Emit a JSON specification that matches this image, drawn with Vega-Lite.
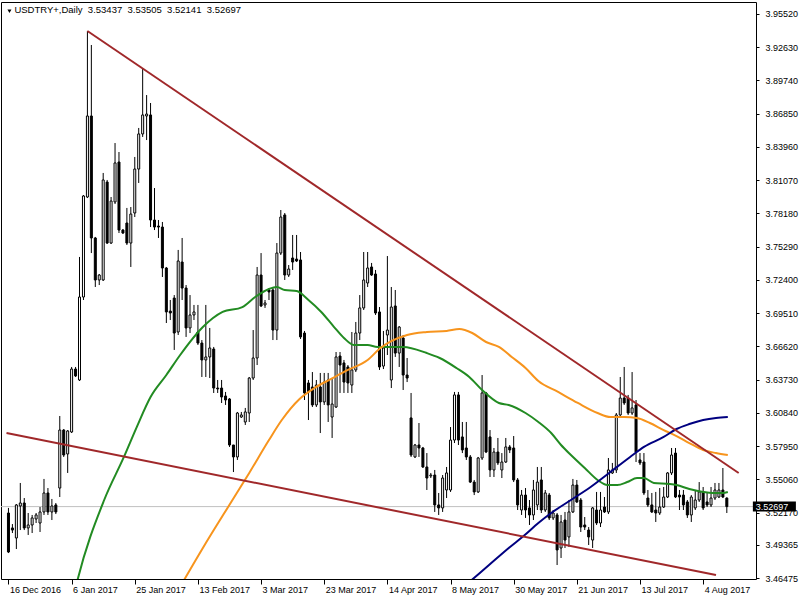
{
"$schema": "https://vega.github.io/schema/vega-lite/v6.json",
"width": 755, "height": 577,
"autosize": "none",
"padding": {"left": 1, "top": 2, "right": 44, "bottom": 21},
"background": "white",
"view": {"stroke": "black", "strokeWidth": 1},
"config": {"font": "Liberation Sans", "axis": {"labelOverlap": false}},
"datasets": {
"candles": [
{"i":0,"o":3.5214,"h":3.5258,"l":3.4866,"c":3.4875},
{"i":1,"o":3.5084,"h":3.5118,"l":3.5040,"c":3.5066},
{"i":2,"o":3.4997,"h":3.5292,"l":3.4901,"c":3.5284},
{"i":3,"o":3.5275,"h":3.5475,"l":3.5066,"c":3.5301},
{"i":4,"o":3.5301,"h":3.5344,"l":3.5066,"c":3.5084},
{"i":5,"o":3.5084,"h":3.5214,"l":3.5023,"c":3.5110},
{"i":6,"o":3.5110,"h":3.5197,"l":3.5040,"c":3.5171},
{"i":7,"o":3.5162,"h":3.5214,"l":3.5127,"c":3.5197},
{"i":8,"o":3.5127,"h":3.5266,"l":3.5049,"c":3.5223},
{"i":9,"o":3.5223,"h":3.5510,"l":3.5197,"c":3.5388},
{"i":10,"o":3.5388,"h":3.5431,"l":3.5197,"c":3.5223},
{"i":11,"o":3.5223,"h":3.5336,"l":3.5153,"c":3.5275},
{"i":12,"o":3.5284,"h":3.5301,"l":3.5205,"c":3.5223},
{"i":13,"o":3.5431,"h":3.6057,"l":3.5353,"c":3.5935},
{"i":14,"o":3.5935,"h":3.5944,"l":3.5701,"c":3.5718},
{"i":15,"o":3.5727,"h":3.5935,"l":3.5562,"c":3.5927},
{"i":16,"o":3.5918,"h":3.6483,"l":3.5909,"c":3.6465},
{"i":17,"o":3.6465,"h":3.6483,"l":3.6396,"c":3.6405},
{"i":18,"o":3.6370,"h":3.7439,"l":3.6361,"c":3.7091},
{"i":19,"o":3.7091,"h":3.7977,"l":3.7065,"c":3.7969},
{"i":20,"o":3.7960,"h":3.9403,"l":3.7951,"c":3.8664},
{"i":21,"o":3.8664,"h":3.9281,"l":3.7473,"c":3.7604},
{"i":22,"o":3.7604,"h":3.7613,"l":3.7178,"c":3.7239},
{"i":23,"o":3.7239,"h":3.7291,"l":3.7195,"c":3.7282},
{"i":24,"o":3.7239,"h":3.8169,"l":3.7230,"c":3.8108},
{"i":25,"o":3.8090,"h":3.8108,"l":3.7552,"c":3.7560},
{"i":26,"o":3.7560,"h":3.7960,"l":3.7552,"c":3.7925},
{"i":27,"o":3.7917,"h":3.8429,"l":3.7899,"c":3.8256},
{"i":28,"o":3.8264,"h":3.8351,"l":3.7647,"c":3.7673},
{"i":29,"o":3.7673,"h":3.7682,"l":3.7639,"c":3.7647},
{"i":30,"o":3.7734,"h":3.7865,"l":3.7543,"c":3.7560},
{"i":31,"o":3.7560,"h":3.7873,"l":3.7352,"c":3.7812},
{"i":32,"o":3.7821,"h":3.8308,"l":3.7786,"c":3.8203},
{"i":33,"o":3.8203,"h":3.8560,"l":3.8082,"c":3.8508},
{"i":34,"o":3.8508,"h":3.9081,"l":3.8482,"c":3.8673},
{"i":35,"o":3.8664,"h":3.8846,"l":3.8455,"c":3.8681},
{"i":36,"o":3.8673,"h":3.8777,"l":3.7699,"c":3.7760},
{"i":37,"o":3.7760,"h":3.8038,"l":3.7673,"c":3.7699},
{"i":38,"o":3.7708,"h":3.7760,"l":3.7604,"c":3.7699},
{"i":39,"o":3.7699,"h":3.7743,"l":3.7265,"c":3.7343},
{"i":40,"o":3.7343,"h":3.7352,"l":3.6865,"c":3.6961},
{"i":41,"o":3.6969,"h":3.7065,"l":3.6891,"c":3.6952},
{"i":42,"o":3.7082,"h":3.7108,"l":3.6631,"c":3.6778},
{"i":43,"o":3.6787,"h":3.7500,"l":3.6761,"c":3.7404},
{"i":44,"o":3.7395,"h":3.7604,"l":3.7065,"c":3.7169},
{"i":45,"o":3.7169,"h":3.7195,"l":3.6744,"c":3.6822},
{"i":46,"o":3.6822,"h":3.7108,"l":3.6778,"c":3.6935},
{"i":47,"o":3.6935,"h":3.7022,"l":3.6891,"c":3.6961},
{"i":48,"o":3.6787,"h":3.7022,"l":3.6674,"c":3.6691},
{"i":49,"o":3.6691,"h":3.6717,"l":3.6396,"c":3.6544},
{"i":50,"o":3.6544,"h":3.7022,"l":3.6396,"c":3.6570},
{"i":51,"o":3.6570,"h":3.6822,"l":3.6387,"c":3.6648},
{"i":52,"o":3.6639,"h":3.6657,"l":3.6257,"c":3.6300},
{"i":53,"o":3.6300,"h":3.6370,"l":3.6257,"c":3.6292},
{"i":54,"o":3.6300,"h":3.6370,"l":3.6170,"c":3.6222},
{"i":55,"o":3.6231,"h":3.6266,"l":3.6153,"c":3.6196},
{"i":56,"o":3.6205,"h":3.6213,"l":3.5788,"c":3.5805},
{"i":57,"o":3.5805,"h":3.5805,"l":3.5570,"c":3.5701},
{"i":58,"o":3.5701,"h":3.6092,"l":3.5675,"c":3.6083},
{"i":59,"o":3.6048,"h":3.6092,"l":3.6040,"c":3.6066},
{"i":60,"o":3.6005,"h":3.6127,"l":3.5979,"c":3.6092},
{"i":61,"o":3.6083,"h":3.6396,"l":3.6005,"c":3.6387},
{"i":62,"o":3.6387,"h":3.6804,"l":3.6370,"c":3.6561},
{"i":63,"o":3.6561,"h":3.7352,"l":3.6500,"c":3.7282},
{"i":64,"o":3.7282,"h":3.7473,"l":3.7004,"c":3.7013},
{"i":65,"o":3.7022,"h":3.7065,"l":3.6996,"c":3.7039},
{"i":66,"o":3.7152,"h":3.7169,"l":3.7065,"c":3.7135},
{"i":67,"o":3.7152,"h":3.7169,"l":3.6717,"c":3.6804},
{"i":68,"o":3.6804,"h":3.7560,"l":3.6717,"c":3.7473},
{"i":69,"o":3.7473,"h":3.7847,"l":3.7456,"c":3.7786},
{"i":70,"o":3.7804,"h":3.7821,"l":3.7239,"c":3.7282},
{"i":71,"o":3.7282,"h":3.7369,"l":3.7265,"c":3.7334},
{"i":72,"o":3.7430,"h":3.7630,"l":3.7326,"c":3.7395},
{"i":73,"o":3.7421,"h":3.7630,"l":3.7395,"c":3.7404},
{"i":74,"o":3.7413,"h":3.7482,"l":3.6726,"c":3.6744},
{"i":75,"o":3.6778,"h":3.6796,"l":3.6196,"c":3.6257},
{"i":76,"o":3.6344,"h":3.6370,"l":3.6022,"c":3.6266},
{"i":77,"o":3.6309,"h":3.6439,"l":3.6135,"c":3.6153},
{"i":78,"o":3.6153,"h":3.6370,"l":3.6135,"c":3.6326},
{"i":79,"o":3.6309,"h":3.6431,"l":3.5909,"c":3.6179},
{"i":80,"o":3.6179,"h":3.6431,"l":3.6153,"c":3.6352},
{"i":81,"o":3.6370,"h":3.6431,"l":3.6005,"c":3.6153},
{"i":82,"o":3.6048,"h":3.6387,"l":3.5866,"c":3.6161},
{"i":83,"o":3.6135,"h":3.6613,"l":3.6127,"c":3.6570},
{"i":84,"o":3.6578,"h":3.6613,"l":3.6257,"c":3.6500},
{"i":85,"o":3.6518,"h":3.6544,"l":3.6257,"c":3.6352},
{"i":86,"o":3.6483,"h":3.6500,"l":3.6257,"c":3.6344},
{"i":87,"o":3.6326,"h":3.6787,"l":3.6257,"c":3.6457},
{"i":88,"o":3.6457,"h":3.6874,"l":3.6439,"c":3.6778},
{"i":89,"o":3.6778,"h":3.7108,"l":3.6717,"c":3.6996},
{"i":90,"o":3.6996,"h":3.7482,"l":3.6978,"c":3.7239},
{"i":91,"o":3.7213,"h":3.7482,"l":3.7178,"c":3.7343},
{"i":92,"o":3.7352,"h":3.7387,"l":3.7274,"c":3.7282},
{"i":93,"o":3.7291,"h":3.7326,"l":3.6935,"c":3.6952},
{"i":94,"o":3.6961,"h":3.7004,"l":3.6457,"c":3.6483},
{"i":95,"o":3.6491,"h":3.6796,"l":3.6465,"c":3.6648},
{"i":96,"o":3.6761,"h":3.7447,"l":3.6587,"c":3.6804},
{"i":97,"o":3.6370,"h":3.7178,"l":3.6300,"c":3.7004},
{"i":98,"o":3.7013,"h":3.7152,"l":3.6570,"c":3.6604},
{"i":99,"o":3.6604,"h":3.6839,"l":3.6483,"c":3.6830},
{"i":100,"o":3.6735,"h":3.6761,"l":3.6283,"c":3.6413},
{"i":101,"o":3.6413,"h":3.6561,"l":3.6352,"c":3.6387},
{"i":102,"o":3.6040,"h":3.6257,"l":3.5701,"c":3.5718},
{"i":103,"o":3.5701,"h":3.5814,"l":3.5692,"c":3.5805},
{"i":104,"o":3.5805,"h":3.5996,"l":3.5701,"c":3.5779},
{"i":105,"o":3.5779,"h":3.5788,"l":3.5605,"c":3.5614},
{"i":106,"o":3.5614,"h":3.5735,"l":3.5414,"c":3.5518},
{"i":107,"o":3.5536,"h":3.5562,"l":3.5518,"c":3.5544},
{"i":108,"o":3.5544,"h":3.5588,"l":3.5223,"c":3.5284},
{"i":109,"o":3.5284,"h":3.5388,"l":3.5197,"c":3.5258},
{"i":110,"o":3.5258,"h":3.5544,"l":3.5223,"c":3.5518},
{"i":111,"o":3.5414,"h":3.5614,"l":3.5344,"c":3.5562},
{"i":112,"o":3.5414,"h":3.5961,"l":3.5397,"c":3.5848},
{"i":113,"o":3.5848,"h":3.6266,"l":3.5822,"c":3.6240},
{"i":114,"o":3.6240,"h":3.6266,"l":3.5805,"c":3.5848},
{"i":115,"o":3.5875,"h":3.6005,"l":3.5735,"c":3.5762},
{"i":116,"o":3.5779,"h":3.6005,"l":3.5675,"c":3.5701},
{"i":117,"o":3.5701,"h":3.5718,"l":3.5475,"c":3.5483},
{"i":118,"o":3.5483,"h":3.5501,"l":3.5370,"c":3.5397},
{"i":119,"o":3.5397,"h":3.5701,"l":3.5388,"c":3.5692},
{"i":120,"o":3.5692,"h":3.6413,"l":3.5675,"c":3.6257},
{"i":121,"o":3.6257,"h":3.6266,"l":3.5735,"c":3.5744},
{"i":122,"o":3.5875,"h":3.5935,"l":3.5527,"c":3.5588},
{"i":123,"o":3.5588,"h":3.5779,"l":3.5527,"c":3.5744},
{"i":124,"o":3.5744,"h":3.5866,"l":3.5631,"c":3.5649},
{"i":125,"o":3.5588,"h":3.5735,"l":3.5518,"c":3.5657},
{"i":126,"o":3.5657,"h":3.5866,"l":3.5649,"c":3.5788},
{"i":127,"o":3.5788,"h":3.5805,"l":3.5735,"c":3.5762},
{"i":128,"o":3.5779,"h":3.5883,"l":3.5483,"c":3.5501},
{"i":129,"o":3.5501,"h":3.5518,"l":3.5240,"c":3.5284},
{"i":130,"o":3.5240,"h":3.5414,"l":3.5197,"c":3.5370},
{"i":131,"o":3.5370,"h":3.5431,"l":3.5171,"c":3.5240},
{"i":132,"o":3.5258,"h":3.5327,"l":3.5110,"c":3.5197},
{"i":133,"o":3.5197,"h":3.5501,"l":3.5153,"c":3.5414},
{"i":134,"o":3.5284,"h":3.5614,"l":3.5240,"c":3.5483},
{"i":135,"o":3.5501,"h":3.5614,"l":3.5214,"c":3.5240},
{"i":136,"o":3.5240,"h":3.5414,"l":3.5223,"c":3.5388},
{"i":137,"o":3.5370,"h":3.5388,"l":3.5153,"c":3.5171},
{"i":138,"o":3.5171,"h":3.5240,"l":3.5153,"c":3.5214},
{"i":139,"o":3.5197,"h":3.5214,"l":3.4762,"c":3.4893},
{"i":140,"o":3.4910,"h":3.5197,"l":3.4823,"c":3.5136},
{"i":141,"o":3.5153,"h":3.5223,"l":3.4910,"c":3.4979},
{"i":142,"o":3.5006,"h":3.5327,"l":3.4919,"c":3.5223},
{"i":143,"o":3.5223,"h":3.5510,"l":3.5214,"c":3.5457},
{"i":144,"o":3.5457,"h":3.5501,"l":3.5301,"c":3.5310},
{"i":145,"o":3.5327,"h":3.5344,"l":3.5049,"c":3.5092},
{"i":146,"o":3.5110,"h":3.5179,"l":3.5066,"c":3.5092},
{"i":147,"o":3.5066,"h":3.5092,"l":3.4936,"c":3.5006},
{"i":148,"o":3.4979,"h":3.5266,"l":3.4910,"c":3.5258},
{"i":149,"o":3.5240,"h":3.5397,"l":3.5110,"c":3.5127},
{"i":150,"o":3.5127,"h":3.5397,"l":3.5092,"c":3.5240},
{"i":151,"o":3.5266,"h":3.5353,"l":3.5214,"c":3.5223},
{"i":152,"o":3.5223,"h":3.5692,"l":3.5205,"c":3.5588},
{"i":153,"o":3.5562,"h":3.5649,"l":3.5553,"c":3.5588},
{"i":154,"o":3.5588,"h":3.6083,"l":3.5562,"c":3.6066},
{"i":155,"o":3.6066,"h":3.6396,"l":3.6048,"c":3.6213},
{"i":156,"o":3.6213,"h":3.6483,"l":3.6153,"c":3.6170},
{"i":157,"o":3.6213,"h":3.6240,"l":3.6066,"c":3.6083},
{"i":158,"o":3.6083,"h":3.6439,"l":3.6066,"c":3.6127},
{"i":159,"o":3.6153,"h":3.6196,"l":3.5657,"c":3.5744},
{"i":160,"o":3.5675,"h":3.5735,"l":3.5631,"c":3.5649},
{"i":161,"o":3.5657,"h":3.5735,"l":3.5370,"c":3.5388},
{"i":162,"o":3.5344,"h":3.5414,"l":3.5266,"c":3.5284},
{"i":163,"o":3.5284,"h":3.5388,"l":3.5214,"c":3.5223},
{"i":164,"o":3.5240,"h":3.5397,"l":3.5136,"c":3.5214},
{"i":165,"o":3.5214,"h":3.5431,"l":3.5197,"c":3.5266},
{"i":166,"o":3.5266,"h":3.5440,"l":3.5258,"c":3.5353},
{"i":167,"o":3.5353,"h":3.5570,"l":3.5344,"c":3.5562},
{"i":168,"o":3.5562,"h":3.5779,"l":3.5544,"c":3.5718},
{"i":169,"o":3.5735,"h":3.5779,"l":3.5344,"c":3.5353},
{"i":170,"o":3.5370,"h":3.5414,"l":3.5240,"c":3.5353},
{"i":171,"o":3.5370,"h":3.5414,"l":3.5240,"c":3.5284},
{"i":172,"o":3.5310,"h":3.5327,"l":3.5171,"c":3.5197},
{"i":173,"o":3.5197,"h":3.5370,"l":3.5136,"c":3.5353},
{"i":174,"o":3.5258,"h":3.5414,"l":3.5240,"c":3.5327},
{"i":175,"o":3.5327,"h":3.5483,"l":3.5310,"c":3.5397},
{"i":176,"o":3.5397,"h":3.5440,"l":3.5240,"c":3.5258},
{"i":177,"o":3.5310,"h":3.5388,"l":3.5266,"c":3.5284},
{"i":178,"o":3.5284,"h":3.5440,"l":3.5266,"c":3.5344},
{"i":179,"o":3.5344,"h":3.5475,"l":3.5327,"c":3.5414},
{"i":180,"o":3.5353,"h":3.5475,"l":3.5344,"c":3.5414},
{"i":181,"o":3.5414,"h":3.5605,"l":3.5344,"c":3.5353},
{"i":182,"o":3.53437,"h":3.53505,"l":3.52141,"c":3.52697}
],
"ma": [
{"ma":"fast","i":17,"v":3.4562},{"ma":"fast","i":17.5,"v":3.4632},{"ma":"fast","i":24.25,"v":3.5327},{"ma":"fast","i":29.25,"v":3.5701},{"ma":"fast","i":32.5,"v":3.5961},{"ma":"fast","i":36,"v":3.6222},{"ma":"fast","i":40,"v":3.6413},{"ma":"fast","i":43.5,"v":3.6587},{"ma":"fast","i":49.25,"v":3.6830},{"ma":"fast","i":54.25,"v":3.6961},{"ma":"fast","i":59.25,"v":3.7004},{"ma":"fast","i":62.5,"v":3.7091},{"ma":"fast","i":66,"v":3.7161},{"ma":"fast","i":68,"v":3.7178},{"ma":"fast","i":70,"v":3.7152},{"ma":"fast","i":73,"v":3.7143},{"ma":"fast","i":76,"v":3.7065},{"ma":"fast","i":79.25,"v":3.6961},{"ma":"fast","i":82.5,"v":3.6830},{"ma":"fast","i":85,"v":3.6735},{"ma":"fast","i":87.5,"v":3.6674},{"ma":"fast","i":91,"v":3.6674},{"ma":"fast","i":93.5,"v":3.6657},{"ma":"fast","i":96,"v":3.6657},{"ma":"fast","i":100,"v":3.6657},{"ma":"fast","i":106,"v":3.6604},{"ma":"fast","i":109.25,"v":3.6561},{"ma":"fast","i":113.5,"v":3.6474},{"ma":"fast","i":116.75,"v":3.6396},{"ma":"fast","i":120,"v":3.6283},{"ma":"fast","i":124.25,"v":3.6170},{"ma":"fast","i":126.75,"v":3.6153},{"ma":"fast","i":131,"v":3.6083},{"ma":"fast","i":134.25,"v":3.6005},{"ma":"fast","i":137.5,"v":3.5909},{"ma":"fast","i":140,"v":3.5805},{"ma":"fast","i":142.5,"v":3.5718},{"ma":"fast","i":146,"v":3.5605},{"ma":"fast","i":149.25,"v":3.5501},{"ma":"fast","i":151.75,"v":3.5457},{"ma":"fast","i":154.25,"v":3.5457},{"ma":"fast","i":156.75,"v":3.5483},{"ma":"fast","i":159.25,"v":3.5518},{"ma":"fast","i":161,"v":3.5518},{"ma":"fast","i":163.5,"v":3.5475},{"ma":"fast","i":167.5,"v":3.5466},{"ma":"fast","i":169.25,"v":3.5457},{"ma":"fast","i":172.5,"v":3.5423},{"ma":"fast","i":176,"v":3.5397},{"ma":"fast","i":178.5,"v":3.5388},{"ma":"fast","i":181,"v":3.5388},{"ma":"fast","i":182.25,"v":3.5397},
{"ma":"slow","i":43.75,"v":3.4588},{"ma":"slow","i":49.25,"v":3.4910},{"ma":"slow","i":56.75,"v":3.5327},{"ma":"slow","i":61,"v":3.5562},{"ma":"slow","i":66,"v":3.5848},{"ma":"slow","i":69.25,"v":3.6022},{"ma":"slow","i":73.75,"v":3.6205},{"ma":"slow","i":77.5,"v":3.6300},{"ma":"slow","i":81.75,"v":3.6379},{"ma":"slow","i":86,"v":3.6457},{"ma":"slow","i":91,"v":3.6544},{"ma":"slow","i":94.25,"v":3.6648},{"ma":"slow","i":101,"v":3.6761},{"ma":"slow","i":106,"v":3.6787},{"ma":"slow","i":111,"v":3.6796},{"ma":"slow","i":114.25,"v":3.6813},{"ma":"slow","i":117.5,"v":3.6778},{"ma":"slow","i":121,"v":3.6700},{"ma":"slow","i":124.25,"v":3.6657},{"ma":"slow","i":127.5,"v":3.6570},{"ma":"slow","i":131,"v":3.6474},{"ma":"slow","i":134.25,"v":3.6361},{"ma":"slow","i":139.25,"v":3.6266},{"ma":"slow","i":144.25,"v":3.6170},{"ma":"slow","i":149.25,"v":3.6083},{"ma":"slow","i":152.5,"v":3.6048},{"ma":"slow","i":156,"v":3.6048},{"ma":"slow","i":159.25,"v":3.6040},{"ma":"slow","i":162.5,"v":3.5996},{"ma":"slow","i":166,"v":3.5935},{"ma":"slow","i":169.25,"v":3.5883},{"ma":"slow","i":172.5,"v":3.5822},{"ma":"slow","i":176,"v":3.5762},{"ma":"slow","i":179.25,"v":3.5735},{"ma":"slow","i":182.25,"v":3.5718},
{"ma":"long","i":116.75,"v":3.4614},{"ma":"long","i":121.75,"v":3.4762},{"ma":"long","i":126.75,"v":3.4910},{"ma":"long","i":130.5,"v":3.5014},{"ma":"long","i":134.25,"v":3.5127},{"ma":"long","i":137.5,"v":3.5214},{"ma":"long","i":142.5,"v":3.5327},{"ma":"long","i":147.5,"v":3.5440},{"ma":"long","i":152.5,"v":3.5570},{"ma":"long","i":157.5,"v":3.5701},{"ma":"long","i":161,"v":3.5788},{"ma":"long","i":166,"v":3.5875},{"ma":"long","i":169.25,"v":3.5944},{"ma":"long","i":172.5,"v":3.5987},{"ma":"long","i":176,"v":3.6022},{"ma":"long","i":179.25,"v":3.6040},{"ma":"long","i":182.25,"v":3.6048}
],
"trend": [
{"line":"upper","i":20,"v":3.9403},{"line":"upper","i":185,"v":3.5562},
{"line":"lower","i":-0.5,"v":3.5909},{"line":"lower","i":179.25,"v":3.4675}
]
},
"layer": [
{"data": {"values": [{"p": 3.52697}]},
 "mark": {"type": "rule", "color": "#c0c0c0", "strokeWidth": 1},
 "encoding": {"y": {"field": "p", "type": "quantitative"}}},
{"data": {"name": "candles"},
 "mark": {"type": "rule", "color": "black", "strokeWidth": 1},
 "encoding": {
  "x": {"field": "i", "type": "quantitative",
        "scale": {"domain": [-0.625, 188.125], "nice": false, "zero": false},
        "axis": {"orient": "bottom", "values": [0,16,32,48,64,80,96,112,128,144,160,176], "tickCount": 40,
                 "labelExpr": "['16 Dec 2016','6 Jan 2017','25 Jan 2017','13 Feb 2017','3 Mar 2017','23 Mar 2017','14 Apr 2017','8 May 2017','30 May 2017','21 Jun 2017','13 Jul 2017','4 Aug 2017'][round(datum.value/16)]",
                 "domain": false, "grid": false, "ticks": true, "tickSize": 5, "tickColor": "black",
                 "labelAlign": "left", "labelBaseline": "top", "labelPadding": 1, "labelOffset": 1,
                 "labelFontSize": 9, "labelColor": "black", "labelFont": "Liberation Sans",
                 "labelOverlap": false, "labelFlush": false, "labelBound": false, "title": null}},
  "y": {"field": "l", "type": "quantitative",
        "scale": {"domain": [3.464049, 3.965462], "nice": false, "zero": false},
        "axis": {"orient": "right", "values": [3.9552,3.9263,3.8974,3.8685,3.8396,3.8107,3.7818,3.7529,3.724,3.6951,3.6662,3.6373,3.6084,3.5795,3.5506,3.5217,3.49365,3.46475], "tickCount": 40,
                 "format": ".5f", "domain": false, "grid": false, "tickSize": 3, "tickColor": "black",
                 "labelPadding": 6, "labelFontSize": 9, "labelColor": "black", "labelFont": "Liberation Sans",
                 "labelBaseline": "middle", "labelOverlap": false, "labelFlush": false, "labelBound": false, "title": null}},
  "y2": {"field": "h"}}},
{"data": {"name": "candles"},
 "mark": {"type": "bar", "size": 2, "stroke": "black", "strokeWidth": 1},
 "encoding": {
  "x": {"field": "i", "type": "quantitative"},
  "y": {"field": "o", "type": "quantitative"},
  "y2": {"field": "c"},
  "fill": {"condition": {"test": "datum.c >= datum.o", "value": "white"}, "value": "black"}}},
{"data": {"name": "ma"},
 "mark": {"type": "line", "strokeWidth": 2, "clip": true, "interpolate": "monotone"},
 "encoding": {
  "x": {"field": "i", "type": "quantitative"},
  "y": {"field": "v", "type": "quantitative"},
  "color": {"field": "ma", "type": "nominal", "scale": {"domain": ["fast","slow","long"], "range": ["#228b22","#f7941d","#000080"]}, "legend": null}}},
{"data": {"name": "trend"},
 "mark": {"type": "line", "color": "#a0282a", "strokeWidth": 2, "clip": true},
 "encoding": {
  "x": {"field": "i", "type": "quantitative"},
  "y": {"field": "v", "type": "quantitative"},
  "detail": {"field": "line", "type": "nominal"}}},
{"data": {"values": [{"t": "USDTRY+,Daily\u00a0\u00a03.53437\u00a0\u00a03.53505\u00a0\u00a03.52141\u00a0\u00a03.52697"}]},
 "mark": {"type": "text", "align": "left", "baseline": "middle", "fontSize": 9.5, "color": "black", "font": "Liberation Sans"},
 "encoding": {"x": {"datum": 1.5, "type": "quantitative"}, "y": {"datum": 3.9581, "type": "quantitative"}, "text": {"field": "t"}}},
{"data": {"values": [{"s": "menu"}]},
 "mark": {"type": "point", "shape": "triangle-down", "filled": true, "color": "black", "size": 16, "opacity": 1},
 "encoding": {"x": {"datum": 0.25, "type": "quantitative"}, "y": {"datum": 3.9574, "type": "quantitative"}}},
{"data": {"values": [{"p": 3.52697}]},
 "mark": {"type": "rect", "color": "black"},
 "encoding": {"x": {"datum": 188.6, "type": "quantitative"}, "x2": {"datum": 199.5}, "y": {"datum": 3.5314, "type": "quantitative"}, "y2": {"datum": 3.5226}}},
{"data": {"values": [{"p": 3.52697}]},
 "mark": {"type": "text", "align": "left", "baseline": "middle", "fontSize": 9, "color": "white", "font": "Liberation Sans"},
 "encoding": {"x": {"datum": 189.3, "type": "quantitative"}, "y": {"field": "p", "type": "quantitative"}, "text": {"field": "p", "type": "quantitative", "format": ".5f"}}}
]
}
